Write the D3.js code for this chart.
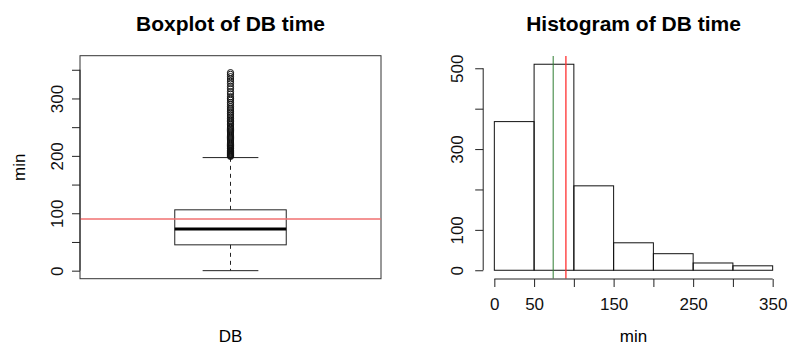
<!DOCTYPE html>
<html>
<head>
<meta charset="utf-8">
<script src="https://cdn.jsdelivr.net/npm/d3@7"></script>
<style>
  html, body { margin: 0; padding: 0; background: #fff; }
  svg { display: block; font-family: "Liberation Sans", Arial, Helvetica, sans-serif; }
</style>
</head>
<body>
<svg id="chart" width="791" height="345"></svg>
<script>
// ---------------- data ----------------
const titles = ["Boxplot of DB time", "Histogram of DB time"];
const boxLabel = "DB";
const unitLabel = "min";
// boxplot five-number summary: lower whisker, Q1, median, Q3, upper whisker
const boxStats = [0, 45, 72.5, 106, 197];
const boxOutliers = [345, 342, 338, 334, 330, 326, 321, 317, 312, 308, 303, 300, 297, 293, 290,
  286, 283, 280, 277, 274, 271, 268, 265, 262, 260, 257, 255, 252, 250, 248, 246, 244, 242,
  240, 238, 236, 234, 232, 230, 228, 226, 224, 222, 220, 218, 216, 214, 213, 212, 210, 209,
  208, 207, 206, 205, 204, 203, 202, 201, 200, 199];
const meanValue = 90;
const medianValue = 74;
const histBreaks = [0, 50, 100, 150, 200, 250, 300, 350];
const histCounts = [368, 510, 209, 68, 41, 18, 11];
const boxYTicks = [0, 50, 100, 150, 200, 250, 300, 350];
const boxYLabels = [0, 100, 200, 300];
const histYTicks = [0, 100, 200, 300, 400, 500];
const histYLabels = [0, 100, 300, 500];
const histXTicks = [0, 50, 100, 150, 200, 250, 300, 350];
const histXLabels = [0, 50, 150, 250, 350];

// ---------------- drawing ----------------
const svg = d3.select("#chart");
const tickFont = 17;

function rAxisLeft(g, scale, ticks, labels, x, labelBaselineX) {
  const ax = d3.axisLeft(scale).tickValues(ticks).tickSize(8).tickSizeOuter(0)
    .tickFormat(d => labels.includes(d) ? String(d) : "");
  const gg = g.append("g").attr("transform", `translate(${x},0)`).call(ax);
  gg.select(".domain").remove();
  gg.append("line")
    .attr("x1", 0).attr("x2", 0)
    .attr("y1", scale(ticks[0])).attr("y2", scale(ticks[ticks.length - 1]))
    .attr("stroke", "#222");
  gg.selectAll(".tick line").attr("stroke", "#222");
  gg.selectAll(".tick text")
    .attr("font-size", tickFont).attr("fill", "#111")
    .attr("font-family", "Liberation Sans, Arial, sans-serif")
    .attr("x", null).attr("dy", null)
    .attr("text-anchor", "middle")
    .attr("transform", `translate(${labelBaselineX - x},0) rotate(-90)`)
    .attr("y", 0);
  return gg;
}

function rAxisBottom(g, scale, ticks, labels, y, baselineY) {
  const ax = d3.axisBottom(scale).tickValues(ticks).tickSize(8).tickSizeOuter(0)
    .tickFormat(d => labels.includes(d) ? String(d) : "");
  const gg = g.append("g").attr("transform", `translate(0,${y})`).call(ax);
  gg.select(".domain").remove();
  gg.append("line")
    .attr("y1", 0).attr("y2", 0)
    .attr("x1", scale(ticks[0])).attr("x2", scale(ticks[ticks.length - 1]))
    .attr("stroke", "#222");
  gg.selectAll(".tick line").attr("stroke", "#222");
  gg.selectAll(".tick text")
    .attr("font-size", tickFont).attr("fill", "#111")
    .attr("font-family", "Liberation Sans, Arial, sans-serif")
    .attr("dy", null).attr("y", baselineY - y);
  return gg;
}

// ===== Boxplot panel =====
const bL = 80, bR = 381, bT = 55.7, bB = 278.7;
const xB = d3.scaleLinear().domain([0.46, 1.54]).range([bL, bR]);
const yB = d3.scaleLinear().domain([-14, 374.5]).range([bB, bT]);
const gB = svg.append("g");

// frame
gB.append("rect").attr("x", bL).attr("y", bT).attr("width", bR - bL).attr("height", bB - bT)
  .attr("fill", "none").attr("stroke", "#333").attr("stroke-width", 1);

// box
const [wLo, q1, med, q3, wHi] = boxStats;
gB.append("rect").attr("x", xB(0.8)).attr("width", xB(1.2) - xB(0.8))
  .attr("y", yB(q3)).attr("height", yB(q1) - yB(q3))
  .attr("fill", "none").attr("stroke", "#222").attr("stroke-width", 1);
// whiskers (dashed)
[[q3, wHi], [q1, wLo]].forEach(([a, b]) => {
  gB.append("line").attr("x1", xB(1)).attr("x2", xB(1))
    .attr("y1", yB(a)).attr("y2", yB(b))
    .attr("stroke", "#222").attr("stroke-dasharray", "4,4");
});
// staples
[wHi, wLo].forEach(v => {
  gB.append("line").attr("x1", xB(0.9)).attr("x2", xB(1.1))
    .attr("y1", yB(v)).attr("y2", yB(v)).attr("stroke", "#222");
});
// median
gB.append("line").attr("x1", xB(0.8)).attr("x2", xB(1.2))
  .attr("y1", yB(med)).attr("y2", yB(med)).attr("stroke", "#000").attr("stroke-width", 3);
// outliers
gB.selectAll("circle.out").data(boxOutliers).join("circle")
  .attr("class", "out")
  .attr("cx", xB(1)).attr("cy", d => yB(d)).attr("r", 3.1)
  .attr("fill", "none").attr("stroke", "#111").attr("stroke-width", 1);
// mean line
gB.append("line").attr("x1", bL).attr("x2", bR)
  .attr("y1", yB(meanValue)).attr("y2", yB(meanValue))
  .attr("stroke", "#f07070").attr("stroke-width", 1.6);

rAxisLeft(gB, yB, boxYTicks, boxYLabels, bL, 63);

gB.append("text").attr("x", (bL + bR) / 2).attr("y", 30.5).attr("text-anchor", "middle")
  .attr("font-size", 21).attr("font-weight", "bold").text(titles[0]);
gB.append("text").attr("x", (bL + bR) / 2).attr("y", 341.5).attr("text-anchor", "middle")
  .attr("font-size", tickFont).text(boxLabel);
gB.append("text").attr("transform", `translate(25,${(bT + bB) / 2}) rotate(-90)`)
  .attr("text-anchor", "middle").attr("font-size", tickFont).text(unitLabel);

// ===== Histogram panel =====
const hL = 483.2, hR = 783.8, hT = 56, hB = 278.5;
const xH = d3.scaleLinear().domain([-14, 364]).range([hL, hR]);
const yH = d3.scaleLinear().domain([-20.4, 530.4]).range([hB, hT]);
const gH = svg.append("g");

const bins = histCounts.map((c, i) => ({ x0: histBreaks[i], x1: histBreaks[i + 1], n: c }));
gH.selectAll("rect.bar").data(bins).join("rect")
  .attr("class", "bar")
  .attr("x", d => xH(d.x0)).attr("width", d => xH(d.x1) - xH(d.x0))
  .attr("y", d => yH(d.n)).attr("height", d => yH(0) - yH(d.n))
  .attr("fill", "none").attr("stroke", "#111").attr("stroke-width", 1);

gH.append("line").attr("x1", xH(medianValue)).attr("x2", xH(medianValue))
  .attr("y1", hT).attr("y2", hB).attr("stroke", "#2e7d32").attr("stroke-width", 1);
gH.append("line").attr("x1", xH(meanValue)).attr("x2", xH(meanValue))
  .attr("y1", hT).attr("y2", hB).attr("stroke", "#ff3030").attr("stroke-width", 1.3);

rAxisLeft(gH, yH, histYTicks, histYLabels, hL, 463);
rAxisBottom(gH, xH, histXTicks, histXLabels, 279, 310);

gH.append("text").attr("x", (hL + hR) / 2).attr("y", 30.5).attr("text-anchor", "middle")
  .attr("font-size", 21).attr("font-weight", "bold").text(titles[1]);
gH.append("text").attr("x", (hL + hR) / 2).attr("y", 341.5).attr("text-anchor", "middle")
  .attr("font-size", tickFont).text(unitLabel);
</script>
</body>
</html>
